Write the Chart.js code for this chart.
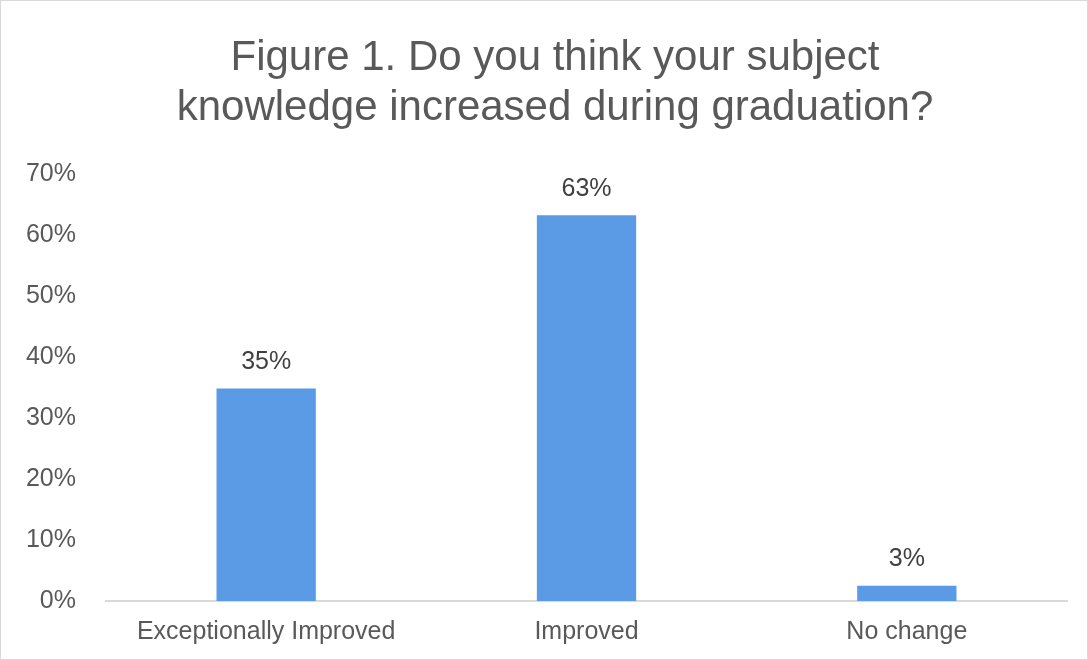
<!DOCTYPE html>
<html>
<head>
<meta charset="utf-8">
<script src="https://cdn.jsdelivr.net/npm/chart.js@4/dist/chart.umd.min.js"></script>
<style>
  html, body { margin: 0; padding: 0; background: #fff; }
  #wrap { width: 1086px; height: 658px; border: 1px solid #d9d9d9; }
</style>
</head>
<body>
<div id="wrap"><canvas id="chart-knowledge" width="1086" height="658"></canvas></div>
<script>
var categories = ["Exceptionally Improved", "Improved", "No change"];
var shareValues = [34.8, 63.2, 2.5];
var tickLabels = ["0%", "10%", "20%", "30%", "40%", "50%", "60%", "70%"];

var barLabels = {
  id: "barLabels",
  afterDatasetsDraw: function (chart) {
    var ctx = chart.ctx;
    var meta = chart.getDatasetMeta(0);
    ctx.save();
    ctx.font = "25px 'Liberation Sans', Arial, sans-serif";
    ctx.fillStyle = "#404040";
    ctx.textAlign = "center";
    ctx.textBaseline = "bottom";
    meta.data.forEach(function (bar, i) {
      ctx.fillText(Math.round(shareValues[i]) + "%", bar.x, bar.y - 14);
    });
    ctx.restore();
  }
};

// title in the original sits a bit right of the canvas centre
var titleShift = {
  id: "titleShift",
  afterLayout: function (chart) {
    if (chart.titleBlock) {
      chart.titleBlock.left += 36;
    }
  }
};

new Chart(document.getElementById("chart-knowledge").getContext("2d"), {
  type: "bar",
  data: {
    labels: categories,
    datasets: [{
      data: shareValues,
      backgroundColor: "#5b9be6",
      categoryPercentage: 1,
      barPercentage: 0.31
    }]
  },
  options: {
    responsive: false,
    animation: false,
    layout: { padding: { left: 6, right: 20, top: 0, bottom: 4 } },
    plugins: {
      legend: { display: false },
      tooltip: { enabled: false },
      title: {
        display: true,
        text: ["Figure 1. Do you think your subject", "knowledge increased during graduation?"],
        color: "#595959",
        font: { family: "'Liberation Sans', Arial, sans-serif", size: 42, weight: "normal", lineHeight: 1.2 },
        padding: { top: 32, bottom: 40 }
      }
    },
    scales: {
      x: {
        grid: { display: false },
        border: { color: "#d9d9d9", width: 2 },
        ticks: {
          color: "#595959",
          font: { family: "'Liberation Sans', Arial, sans-serif", size: 25 },
          padding: 8,
          maxRotation: 0
        }
      },
      y: {
        min: 0,
        max: 70,
        grid: { display: false },
        border: { display: false },
        afterFit: function (scale) { scale.width = 99; },
        ticks: {
          stepSize: 10,
          color: "#595959",
          padding: 22,
          font: { family: "'Liberation Sans', Arial, sans-serif", size: 25 },
          callback: function (value, index) { return tickLabels[index]; }
        }
      }
    }
  },
  plugins: [barLabels, titleShift]
});
</script>
</body>
</html>
